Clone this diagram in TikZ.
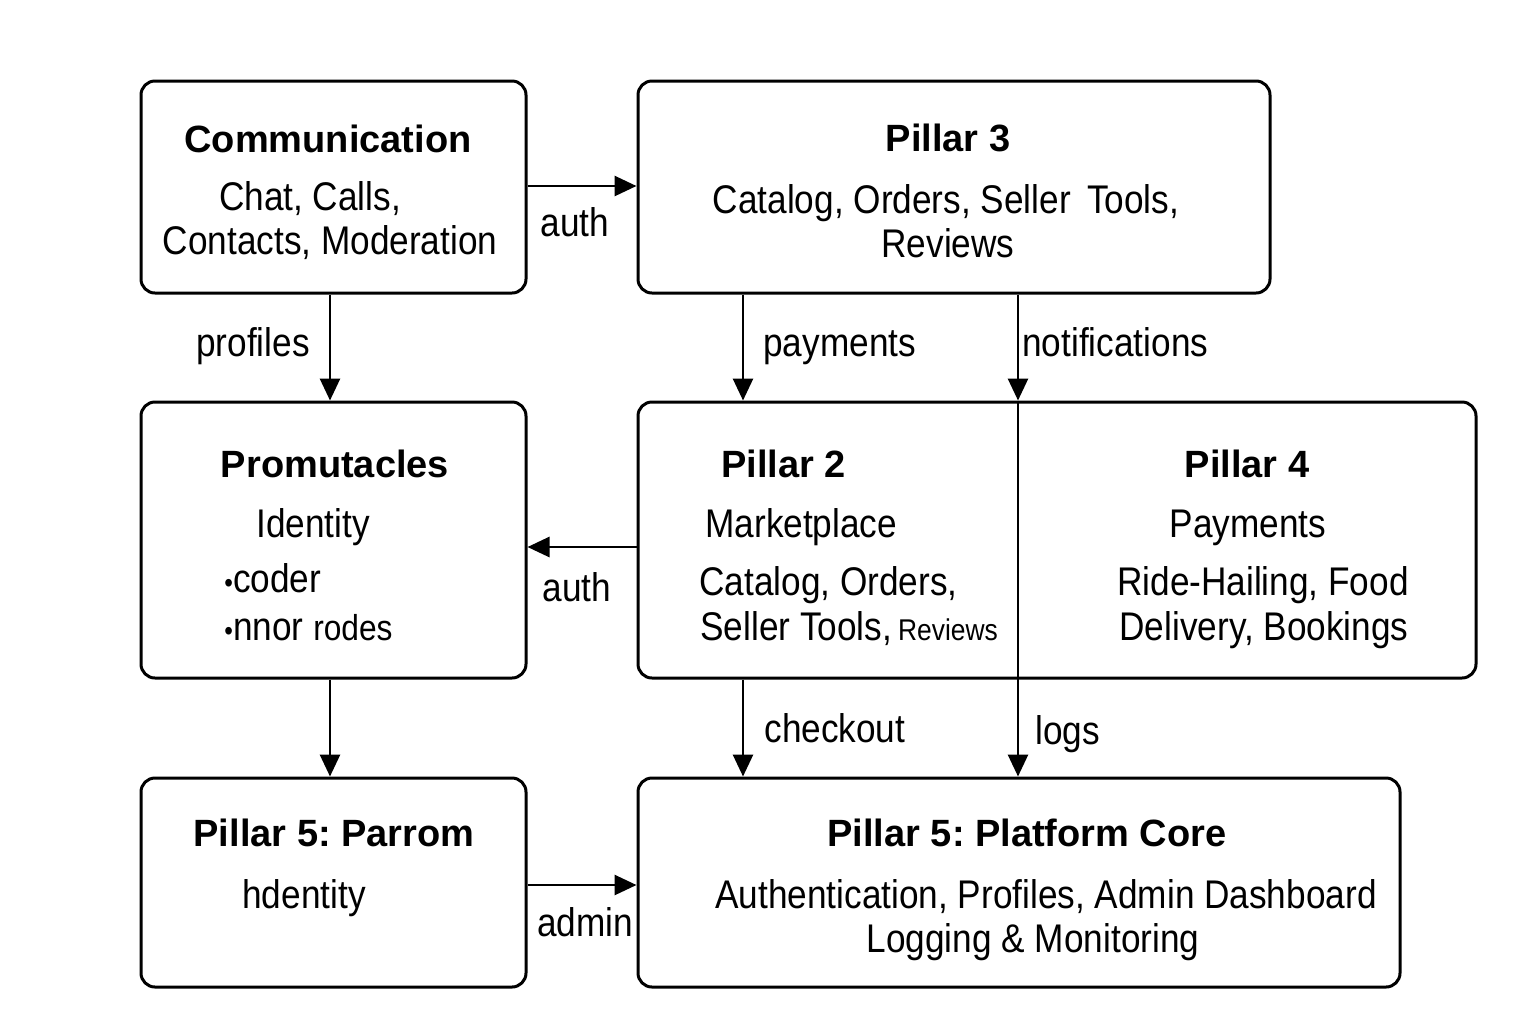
\documentclass[tikz,border=0pt]{standalone}
\usepackage{fontspec}
\setmainfont{Liberation Sans}[FakeStretch=0.88]
\newfontfamily\hdfont{Liberation Sans}
\usetikzlibrary{arrows.meta,fit}
\begin{document}
\begin{tikzpicture}[x=0.5pt,y=-0.5pt,
  box/.style={draw, line width=1.5pt, rounded corners=7pt, inner sep=0pt},
  arr/.style={line width=1.4pt, -{Triangle[length=11pt,width=10pt]}},
  hd/.style={inner sep=0pt, anchor=base, font=\frenchspacing\hdfont\bfseries\fontsize{19}{22}\selectfont},
  bd/.style={inner sep=0pt, anchor=base, font=\fontsize{20}{24}\selectfont},
  bdl/.style={bd, anchor=base west},
  hdl/.style={hd, anchor=base west}
  ]
\useasboundingbox (0,0) rectangle (1536,1024);
\fill[white] (0,0) rectangle (1536,1024);

% boxes
\node[box, fit={(141,81) (526,293)}] (comm) {};
\node[box, fit={(638,81) (1270,293)}] (p3) {};
\node[box, fit={(141,402) (526,678)}] (prom) {};
\node[box, fit={(638,402) (1476,678)}] (p24) {};
\node[box, fit={(141,778) (526,987)}] (parrom) {};
\node[box, fit={(638,778) (1400,987)}] (core) {};

% helper coordinates
\coordinate (xL) at (330,0);
\coordinate (xA) at (743,0);
\coordinate (xB) at (1018,0);
\coordinate (yA) at (0,186);
\coordinate (yB) at (0,547);
\coordinate (yC) at (0,885);

% connectors
\draw[arr] (comm.east |- yA) -- (p3.west |- yA);
\draw[arr] (comm.south -| xL) -- (prom.north -| xL);
\draw[arr] (p3.south -| xA) -- (p24.north -| xA);
\draw[arr] (p3.south -| xB) -- (p24.north -| xB);
\draw[line width=1.4pt] (p24.north -| xB) -- (p24.south -| xB);
\draw[arr] (p24.west |- yB) -- (prom.east |- yB);
\draw[arr] (prom.south -| xL) -- (parrom.north -| xL);
\draw[arr] (p24.south -| xA) -- (core.north -| xA);
\draw[arr] (p24.south -| xB) -- (core.north -| xB);
\draw[arr] (parrom.east |- yC) -- (core.west |- yC);

% connector labels
\node[bd] (lauth1) at (575,236) {auth};
\node[bd] (lprof) at (253,356) {profiles};
\node[bdl] (lpay) at (763,356) {payments};
\node[bdl] (lnot) at (1022,356) {notifications};
\node[bd] (lauth2) at (577,601) {auth};
\node[bdl] (lcheck) at (764,742) {checkout};
\node[bdl] (llogs) at (1035,744) {logs};
\node[bd] (ladmin) at (585,936) {admin};

% Communication
\node[hd] (t1) at (328,152) {Communication};
\node[bd] (t2) at (310,210) {Chat, Calls,};
\node[bd] (t3) at (330,254) {Contacts, Moderation};

% Pillar 3
\node[hd] (t4) at (948,151) {Pillar 3};
\node[bd] (t5) at (946,213) {Catalog, Orders, Seller\,\ Tools,};
\node[bd] (t6) at (948,257) {Reviews};

% Promutacles
\node[hd] (t7) at (335,477) {Promutacles};
\node[bdl] (t8) at (256,537) {Identity};
\node[bdl] (t9) at (224,592) {{\fontsize{14}{14}\selectfont •}coder};
\node[bdl] (t10) at (224,640) {{\fontsize{14}{14}\selectfont •}nnor {\fontsize{18}{20}\selectfont rodes}};

% Pillar 2
\node[hdl] (t11) at (721,477) {Pillar 2};
\node[bdl] (t12) at (705,537) {Marketplace};
\node[bdl] (t13) at (699,595) {Catalog, Orders,};
\node[bdl] (t14) at (700,640) {Seller Tools,\hspace{0.15em}{\fontsize{15}{18}\selectfont Reviews}};

% Pillar 4
\node[hd] (t15) at (1247,477) {Pillar 4};
\node[bd] (t16) at (1248,537) {Payments};
\node[bd] (t17) at (1263,595) {Ride-Hailing, Food};
\node[bd] (t18) at (1264,640) {Delivery, Bookings};

% Pillar 5: Parrom
\node[hd] (t19) at (334,846) {Pillar 5: Parrom};
\node[bdl] (t20) at (242,908) {hdentity};

% Platform Core
\node[hd] (t21) at (1027,846) {Pillar 5: Platform Core};
\node[bd] (t22) at (1046,908) {Authentication, Profiles, Admin Dashboard};
\node[bd] (t23) at (1033,952) {Logging \& Monitoring};
\end{tikzpicture}
\end{document}
